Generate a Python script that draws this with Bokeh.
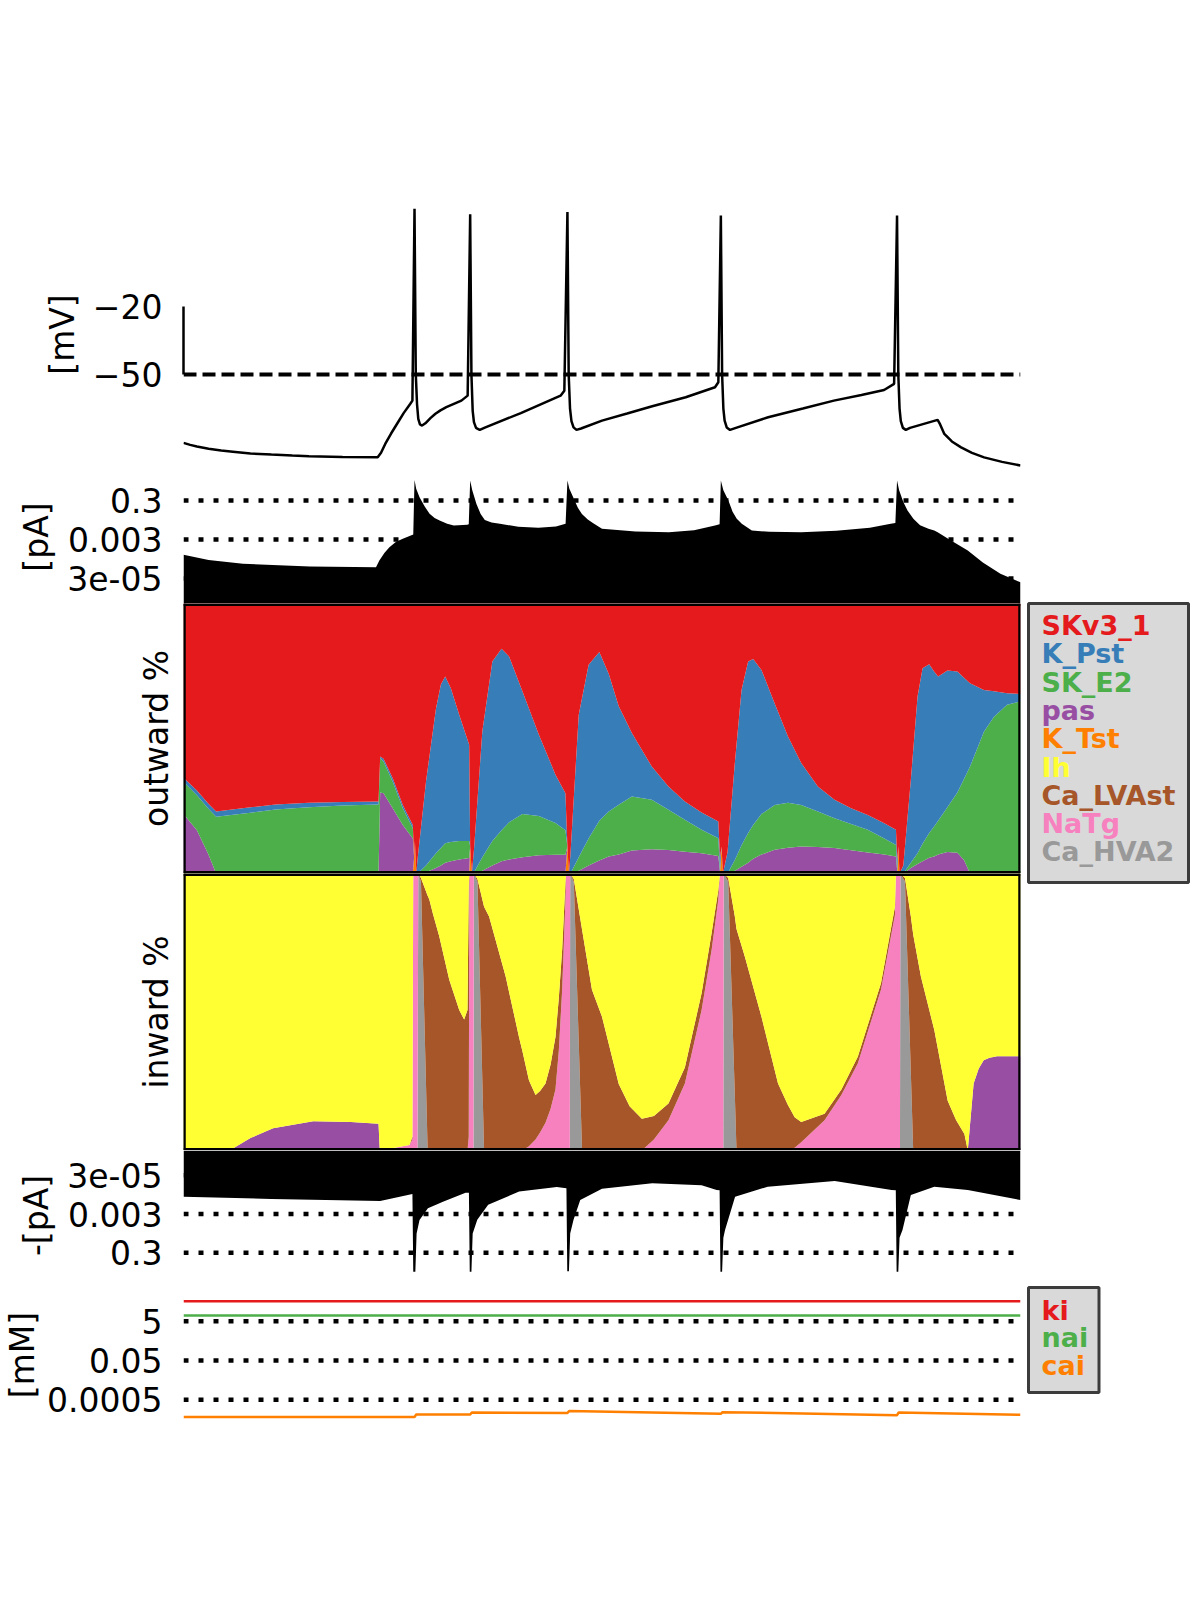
from bokeh.plotting import figure
from bokeh.layouts import column, row
from bokeh.models import Range1d, FixedTicker, Span, ColumnDataSource
from bokeh.core.properties import value
from bokeh.embed import file_html
from bokeh.resources import INLINE

FONT = "DejaVu Sans"

# membrane voltage trace (ms, mV)
v_t = [0, 8, 16, 30, 45, 59, 80, 105, 130, 150,
       190, 232, 236, 241, 248, 255, 263, 271, 273.5, 276,
       277.5, 279, 280.5, 282.5, 285, 289, 295, 301, 307, 314,
       332, 339.5, 342.5, 344, 345.5, 347, 349.5, 351, 354, 360,
       403, 450.5, 455, 458.7, 460.2, 461.8, 463.5, 466, 469.5, 475,
       500, 530, 560, 600, 635, 639, 642, 643.5, 645, 646.5,
       649, 653, 660, 698.5, 740, 777, 810, 837, 849, 852.5,
       854, 855.5, 857, 859.5, 863, 868, 901, 904, 909, 918,
       929, 942, 956.5, 978, 1000]
v_mv = [-80.1, -81.0, -81.7, -82.7, -83.5, -84.0, -84.8, -85.3, -85.7, -86.0,
        -86.3, -86.5, -84.5, -80.6, -76.0, -71.8, -67.0, -62.9, -61.5, 23.1,
        -49.6, -63, -69.5, -72, -72.5, -71.5, -69.2, -67.3, -65.8, -64.4,
        -61.5, -59.3, 20.6, -50, -66, -71, -73.5, -73.8, -74.4, -73.4,
        -67, -59.3, -57.1, 21.6, -50, -65, -70.5, -73.3, -74.4, -73.8,
        -70.3, -67.2, -64.0, -60.0, -55.6, -53.4, 20.1, -50, -65, -70.3,
        -73.3, -74.4, -73.5, -68.8, -65, -61.5, -59, -56.8, -54.1, 20.1,
        -50, -65, -70.5, -73.5, -74.4, -73.5, -70.0, -72, -76.2, -79.5,
        -82.1, -84.5, -86.5, -88.5, -90.1]

# total outward current (pA)
out_t = [0, 30, 71, 151, 230, 234, 240, 246, 254, 262,
         274.5, 276, 278, 282, 288, 294, 300, 306, 315, 323,
         339, 340.8, 342.5, 345, 350, 355, 360, 368, 378, 400,
         424, 445, 456.5, 458.7, 461, 466, 471, 476, 483, 490,
         500, 540, 580, 610, 635, 640.5, 642, 645, 651, 656,
         661, 667, 679, 700, 738, 780, 820, 845, 850.5, 852.5,
         855, 860, 865, 872, 880, 890, 897, 901, 915, 937,
         955, 976, 1000]
out_pa = [4.9e-4, 2.7e-4, 1.7e-4, 1.24e-4, 1.14e-4, 2.5e-4, 6e-4, 1.2e-3, 2.3e-3, 3.3e-3,
          5.4e-3, 3.4, 1.2, 0.44, 0.15, 0.062, 0.038, 0.028, 0.019, 0.0157,
          0.017, 0.018, 3.2, 1.0, 0.2, 0.06, 0.03, 0.022, 0.019, 0.0135,
          0.0119, 0.014, 0.019, 3.2, 1.2, 0.4, 0.13, 0.06, 0.032, 0.02,
          0.0106, 0.0078, 0.0071, 0.009, 0.0157, 0.018, 3.2, 1.0, 0.3, 0.08,
          0.035, 0.019, 0.0087, 0.0074, 0.0071, 0.0085, 0.012, 0.019, 0.021, 3.2,
          1.0, 0.25, 0.092, 0.035, 0.016, 0.0105, 0.0087, 0.0071, 0.003, 8.2e-4,
          2.0e-4, 5.2e-5, 1.9e-5]

# total inward current (pA, plotted downwards)
in_t = [0, 105, 235, 273.5, 274.5, 277, 278.5, 282, 292, 310,
        337, 341, 342, 344, 345.5, 351, 364, 401, 446, 455,
        457.5, 458.5, 460.5, 462, 466, 474, 500, 560, 619, 637,
        640.5, 641.5, 643.5, 645, 647, 659, 698, 778, 846, 851,
        852, 854, 855.5, 859, 869, 897, 937, 1000]
in_pa = [3.85e-4, 5.0e-4, 6.4e-4, 2.8e-4, 2.8, 2.8, 0.03, 0.0061, 0.0015, 6.9e-4,
         2.4e-4, 2.4e-4, 2.8, 2.8, 0.03, 0.006, 1.0e-3, 2.1e-4, 1.2e-4, 1.35e-4,
         1.4e-4, 2.7, 2.7, 0.03, 0.006, 5.7e-4, 1.5e-4, 7.8e-5, 9.9e-5, 1.75e-4,
         1.8e-4, 2.8, 2.8, 0.05, 0.02, 3.85e-4, 1.17e-4, 5.9e-5, 1.75e-4, 1.8e-4,
         2.8, 2.8, 0.05, 0.0198, 3.1e-4, 1.17e-4, 1.75e-4, 5.7e-4]

# outward current shares (%)
pct_out_t = [0, 16, 29.8, 39, 80, 110, 150, 190, 233, 235,
             239, 250, 262, 274, 275.5, 276.5, 278, 279.8, 289.7, 301.6,
             307.5, 312.7, 319.4, 329.4, 337.3, 341.3, 342.5, 344.5, 347.2, 357,
             369, 380, 389, 405, 424.6, 444.4, 456.3, 458.7, 460.5, 462.3,
             472.2, 484, 496.8, 508, 520, 535.7, 559.5, 579.4, 599, 619,
             639, 641, 642.8, 644.5, 650, 658.7, 666.7, 674.6, 680.6, 690.5,
             706.3, 722.2, 738, 757.9, 777.8, 797.6, 817.5, 837.3, 851.2, 852.8,
             854, 855.5, 860, 869, 877, 883, 890.9, 896.8, 901.6, 912.7,
             924.6, 932.5, 939.7, 956.3, 968.3, 984, 1000]
k_tst = [0, 0, 0, 0, 0, 0, 0, 0, 0, 0,
         0, 0, 0, 0, 6, 12, 0, 0, 0, 0,
         0, 0, 0, 0, 0, 0, 10, 0, 0, 0,
         0, 0, 0, 0, 0, 0, 0, 10, 0, 0,
         0, 0, 0, 0, 0, 0, 0, 0, 0, 0,
         0, 0, 10, 0, 0, 0, 0, 0, 0, 0,
         0, 0, 0, 0, 0, 0, 0, 0, 0, 0,
         10, 0, 0, 0, 0, 0, 0, 0, 0, 0,
         0, 0, 0, 0, 0, 0, 0]
pas_out = [22, 16, 7, 0, 0, 0, 0, 0, 0, 30,
           29.7, 24.2, 18, 13, 0, 0, 0, 0, 0.5, 2,
           3, 4, 4.5, 5.2, 5.6, 5.7, 0, 0, 0, 1,
           3, 4.5, 5.2, 6, 6.8, 6.9, 6.9, 0, 0, 0,
           1, 3, 4.8, 6.3, 7, 8.5, 9, 8.7, 8.1, 7.5,
           6.5, 0.5, 0, 0, 0, 1, 2.5, 4, 5.5, 7,
           8.8, 9.5, 10, 9.8, 9.4, 8.6, 7.8, 7, 6.3, 0.5,
           0, 0, 0, 2, 3.5, 4.5, 5.8, 6.3, 7, 8,
           7.7, 5, 0, 0, 0, 0, 0]
sk_e2 = [12, 13, 17, 21, 22.5, 23.7, 24.5, 25.2, 25.6, 12.7,
         11.8, 9.8, 6.2, 3.8, 0, 0, 0, 0, 2.5, 5.5,
         6.4, 7.2, 7.2, 6.8, 6.4, 6.3, 0, 0, 0.5, 5,
         9, 11.5, 13.8, 16, 14.5, 11.8, 9.1, 0, 0, 0,
         5, 10, 14.7, 16.7, 18.5, 20, 18.3, 14.9, 11.8, 8.7,
         6.6, 0.5, 0, 0, 0, 4, 8, 11, 12.5, 15,
         16.6, 16.7, 15.4, 13.2, 11.1, 9.7, 8.4, 6, 4.3, 0.5,
         0, 0, 0, 2, 4, 6.5, 9.2, 11.1, 12.5, 16.5,
         22.3, 30, 39.6, 52.5, 58.1, 62.5, 63.8]
k_pst = [1.5, 1.7, 1.8, 2, 2, 1.9, 1.7, 1.3, 1.1, 0.6,
         1, 1.3, 1.2, 1.2, 0, 0, 0, 5.7, 31, 53.5,
         60.6, 61.8, 56.9, 46.8, 39.4, 35.7, 0, 0, 8.9, 46.6,
         66.5, 67.2, 61.4, 45.4, 30.1, 17.9, 13.7, 0, 0, 7,
         52.8, 64.3, 62.5, 51, 36.4, 23.5, 12.3, 8.6, 6.8, 6.4,
         6.2, 4.7, 0, 0, 8, 35.9, 57.5, 63.5, 61.4, 53.4,
         37.6, 24.5, 15.5, 9.2, 6.8, 5.9, 5.5, 5.6, 5.6, 4,
         0, 0, 3, 30.7, 58.1, 65, 62.5, 57.4, 53.5, 50.7,
         44.8, 37.5, 30.9, 15.5, 9.4, 4.3, 2.7]
skv3_1 = [64.5, 69.3, 74.2, 77, 75.5, 74.4, 73.8, 73.5, 73.3, 56.7,
          57.5, 64.7, 74.6, 82, 94, 88, 100, 94.3, 66, 39,
          30, 27, 31.4, 41.2, 48.6, 52.3, 90, 100, 90.6, 47.4,
          21.5, 16.8, 19.6, 32.6, 48.6, 63.4, 70.3, 90, 100, 93,
          41.2, 22.7, 18, 26, 38.1, 48, 60.4, 67.8, 73.3, 77.4,
          80.7, 94.3, 90, 100, 92, 59.1, 32, 21.5, 20.6, 24.6,
          37, 49.3, 59.1, 67.8, 72.7, 75.8, 78.3, 81.4, 83.8, 95,
          90, 100, 97, 65.3, 34.4, 24, 22.5, 25.2, 27, 24.8,
          25.2, 27.5, 29.5, 32, 32.5, 33.2, 33.5]

# inward current shares (%)
pct_in_t = [0, 55, 80, 107, 155, 200, 233, 234.5, 270, 273.5,
            274.5, 279.5, 280.5, 283.7, 291.7, 293.7, 298, 305.6, 317.5, 329.4,
            335.3, 339.3, 340.8, 341.5, 346.4, 346.9, 351.2, 359.1, 365.1, 384.9,
            400.8, 404.8, 412.7, 420.6, 426, 432.5, 438.5, 444.4, 448.4, 452.4,
            456.3, 457, 461.5, 462, 466.3, 476.2, 488, 500, 520, 533,
            547.6, 562, 579.4, 599, 619, 631, 639, 640.9, 644.9, 645.4,
            650.8, 658.7, 660.7, 670.6, 690.5, 710.3, 722, 730.2, 738, 765.9,
            786, 805.6, 833.3, 850, 851.2, 856, 856.5, 862, 869, 871.8,
            881, 897, 913, 923, 933, 937, 944, 950, 956, 963,
            972, 1000]
pas_in = [0, 0, 4.5, 8, 10.6, 10.3, 9.7, 0, 0, 0,
          0, 0, 0, 0, 0, 0, 0, 0, 0, 0,
          0, 0, 0, 0, 0, 0, 0, 0, 0, 0,
          0, 0, 0, 0, 0, 0, 0, 0, 0, 0,
          0, 0, 0, 0, 0, 0, 0, 0, 0, 0,
          0, 0, 0, 0, 0, 0, 0, 0, 0, 0,
          0, 0, 0, 0, 0, 0, 0, 0, 0, 0,
          0, 0, 0, 0, 0, 0, 0, 0, 0, 0,
          0, 0, 0, 0, 0, 0, 24.2, 29.5, 32.6, 33.5,
          34, 34]
ca_hva2 = [0, 0, 0, 0, 0, 0, 0, 0, 0, 0,
           0, 0, 100, 97, 0, 0, 0, 0, 0, 0,
           0, 0, 0, 0, 0, 100, 97, 0, 0, 0,
           0, 0, 0, 0, 0, 0, 0, 0, 0, 0,
           0, 0, 0, 100, 97, 0, 0, 0, 0, 0,
           0, 0, 0, 0, 0, 0, 0, 0, 0, 100,
           97, 20, 0, 0, 0, 0, 0, 0, 0, 0,
           0, 0, 0, 0, 0, 0, 100, 97, 28, 0,
           0, 0, 0, 0, 0, 0, 0, 0, 0, 0,
           0, 0]
natg = [0, 0, 0, 0, 0, 0, 0, 0, 2, 4,
        100, 100, 0, 0, 0, 0, 0, 0, 0, 0,
        0, 0, 5, 100, 100, 0, 0, 0, 0, 0,
        0, 0, 1.5, 4, 6.5, 10, 15, 22, 36, 58,
        90, 100, 100, 0, 0, 0, 0, 0, 0, 0,
        0, 4, 10.9, 24.2, 50.7, 72.5, 90.6, 100, 100, 0,
        0, 0, 0, 0, 0, 0, 0, 1, 3, 10.9,
        20, 31.4, 58, 85, 100, 100, 0, 0, 0, 0,
        0, 0, 0, 0, 0, 0, 0, 0, 0, 0,
        0, 0]
ca_lvast = [0, 0, 0, 0, 0, 0, 0, 0, 0, 1,
            0, 0, 0, 1.4, 92, 90.6, 85.5, 77.3, 61.6, 50.7,
            47.3, 50.7, 90, 0, 0, 0, 1, 88, 84.5, 62.8,
            41, 36, 23.9, 16, 15, 14.2, 16, 19, 19, 14.5,
            6.7, 0, 0, 0, 1, 79.7, 58, 48.3, 24, 16,
            11.5, 8.5, 6.1, 5.8, 6.1, 6, 3.4, 0, 0, 0,
            1.4, 64.5, 80, 70, 48.3, 24.2, 16.5, 11, 7.3, 2.4,
            2, 2.4, 2.4, 3, 0, 0, 0, 1.4, 56.5, 78,
            62.8, 43.5, 18, 11, 6, 0, 0, 0, 0, 0,
            0, 0]
ih = [100, 100, 95.5, 92, 89.4, 89.7, 90.3, 100, 98, 95,
      0, 0, 0, 1.6, 8, 9.4, 14.5, 22.7, 38.4, 49.3,
      52.7, 49.3, 5, 0, 0, 0, 2, 12, 15.5, 37.2,
      59, 64, 74.6, 80, 78.5, 75.8, 69, 59, 45, 27.5,
      3.3, 0, 0, 0, 2, 20.3, 42, 51.7, 76, 84,
      88.5, 87.5, 83, 70, 43.2, 21.5, 6, 0, 0, 0,
      1.6, 15.5, 20, 30, 51.7, 75.8, 83.5, 88, 89.7, 86.7,
      78, 66.2, 39.6, 12, 0, 0, 0, 1.6, 15.5, 22,
      37.2, 56.5, 82, 89, 94, 100, 75.8, 70.5, 67.4, 66.5,
      66, 66]

# ionic concentrations (mM)
ion_t = [0, 1000]
ki = [52, 52]
nai = [9.7, 9.7]
cai_t = [0, 276, 278, 342.5, 344.5, 458.7, 460.7, 642, 644, 852.5, 854.5, 1000]
cai = [6.6e-5, 6.6e-5, 8.9e-5, 8.9e-5, 1.13e-4, 1.06e-4, 1.33e-4, 9.7e-5,
       1.18e-4, 8.3e-5, 1.13e-4, 8.6e-5]

currents = ["SKv3_1", "K_Pst", "SK_E2", "pas", "K_Tst", "Ih", "Ca_LVAst", "NaTg", "Ca_HVA2"]
colors = ["#e41a1c", "#377eb8", "#4daf4a", "#984ea3", "#ff7f00",
          "#ffff33", "#a65628", "#f781bf", "#999999"]
cmap = dict(zip(currents, colors))
ions = ["ki", "nai", "cai"]
ion_colors = ["#e41a1c", "#4daf4a", "#ff7f00"]

current_ticks = [3e-05, 0.003, 0.3]
ion_ticks = [0.0005, 0.05, 5]

LEFT, RIGHT, FRAME_W = 180, 4, 840
x_range = Range1d(0, 1000)


def panel(frame_h, y_range, y_type="linear", top=0, bottom=0, label=""):
    p = figure(width=LEFT + FRAME_W + RIGHT, height=frame_h + top + bottom,
               x_range=x_range, y_range=y_range, y_axis_type=y_type,
               x_axis_location=None, toolbar_location=None, output_backend="svg",
               min_border_left=LEFT, min_border_right=RIGHT,
               min_border_top=top, min_border_bottom=bottom)
    p.grid.visible = False
    p.outline_line_color = None
    ax = p.yaxis[0]
    ax.axis_label = label
    ax.axis_line_color = None
    ax.major_tick_line_color = None
    ax.minor_tick_line_color = None
    ax.major_tick_out = 0
    ax.major_tick_in = 0
    ax.minor_tick_out = 0
    ax.major_label_text_font = FONT
    ax.major_label_text_font_size = "33px"
    ax.major_label_text_color = "black"
    ax.major_label_standoff = 21
    ax.axis_label_text_font = FONT
    ax.axis_label_text_font_size = "33px"
    ax.axis_label_text_font_style = "normal"
    ax.axis_label_text_color = "black"
    ax.axis_label_standoff = 8
    return p


def dotted(p, levels):
    for lv in levels:
        p.add_layout(Span(location=lv, dimension="width", line_color="black",
                          line_width=4.5, line_dash="5 10", level="underlay"))


def log_ticks(p, ticks):
    p.yaxis.ticker = FixedTicker(ticks=ticks)
    p.yaxis.major_label_overrides = {t: f"{t:g}" for t in ticks}


def frame_box(p):
    # thick black border around the share panels
    for loc in (x_range.start, x_range.end):
        p.add_layout(Span(location=loc, dimension="height", line_color="black",
                          line_width=4.5, level="overlay"))
    for loc in (p.y_range.start, p.y_range.end):
        p.add_layout(Span(location=loc, dimension="width", line_color="black",
                          line_width=5, level="overlay"))


# voltage
pv = panel(272, Range1d(-92.3, 27.6), top=198, label="[mV]")
pv.yaxis.ticker = FixedTicker(ticks=[-50, -20])
pv.yaxis.major_label_overrides = {-50: "\u221250", -20: "\u221220"}
pv.yaxis.bounds = (-50, -20)
pv.yaxis.axis_line_color = "black"
pv.yaxis.axis_line_width = 2.5
pv.add_layout(Span(location=-50, dimension="width", line_color="black",
                   line_width=4, line_dash="13 6"))
pv.line(v_t, v_mv, color="black", line_width=2.5)

# total outward current
OUT_LO, OUT_HI = 1.57e-6, 10.3
po = panel(133, Range1d(OUT_LO, OUT_HI), "log", label="[pA]")
log_ticks(po, current_ticks)
dotted(po, current_ticks)
po.varea(x=out_t, y1=OUT_LO, y2=out_pa, color="black")

# outward shares
out_src = ColumnDataSource(dict(t=pct_out_t, K_Tst=k_tst, pas=pas_out, SK_E2=sk_e2,
                                K_Pst=k_pst, SKv3_1=skv3_1))
out_order = ["K_Tst", "pas", "SK_E2", "K_Pst", "SKv3_1"]
pso = panel(270, Range1d(0, 100), label="outward %")
pso.yaxis.ticker = FixedTicker(ticks=[])
pso.yaxis.major_label_standoff = 0
pso.varea_stack(stackers=out_order, x="t", color=[cmap[c] for c in out_order], source=out_src)
frame_box(pso)

# inward shares
in_src = ColumnDataSource(dict(t=pct_in_t, pas=pas_in, Ca_HVA2=ca_hva2, NaTg=natg,
                               Ca_LVAst=ca_lvast, Ih=ih))
in_order = ["pas", "Ca_HVA2", "NaTg", "Ca_LVAst", "Ih"]
psi = panel(277, Range1d(0, 100), label="inward %")
psi.yaxis.ticker = FixedTicker(ticks=[])
psi.yaxis.major_label_standoff = 0
psi.varea_stack(stackers=in_order, x="t", color=[cmap[c] for c in in_order], source=in_src)
frame_box(psi)

# total inward current (axis flipped)
IN_TOP, IN_BOT = 1.6e-6, 8.0
pi = panel(130, Range1d(IN_BOT, IN_TOP), "log", label="-[pA]")
log_ticks(pi, current_ticks)
dotted(pi, current_ticks)
pi.varea(x=in_t, y1=IN_TOP, y2=in_pa, color="black")

# ionic concentrations
pc = panel(135, Range1d(3.5e-5, 259), "log", top=7, bottom=10, label="[mM]")
log_ticks(pc, ion_ticks)
pc.yaxis.axis_label_standoff = 2
dotted(pc, ion_ticks)
pc.line(ion_t, ki, color=ion_colors[0], line_width=2.5)
pc.line(ion_t, nai, color=ion_colors[1], line_width=2.5)
pc.line(cai_t, cai, color=ion_colors[2], line_width=2.5)

panels = [pv, po, pso, psi, pi, pc]
total_h = sum(p.height for p in panels)

# legends drawn in a side strip, y counted from the top in pixels
LEG_W = 168
lg = figure(width=LEG_W, height=total_h, x_range=Range1d(0, LEG_W),
            y_range=Range1d(total_h, 0), toolbar_location=None, output_backend="svg",
            x_axis_location=None, y_axis_location=None, min_border=0)
lg.grid.visible = False
lg.outline_line_color = None

lg.quad(left=4, right=164, top=603, bottom=882, fill_color="#d9d9d9",
        line_color="#3c3c3c", line_width=3)
lg.text(x=17, y=[625 + 28.3 * i for i in range(len(currents))], text=currents,
        text_color=colors, text_font=value(FONT), text_font_style="bold",
        text_font_size="27px", text_baseline="middle")

lg.quad(left=4, right=74.5, top=1287, bottom=1392, fill_color="#d9d9d9",
        line_color="#3c3c3c", line_width=3)
lg.text(x=17, y=[1309.5 + 27.5 * i for i in range(len(ions))], text=ions,
        text_color=ion_colors, text_font=value(FONT), text_font_style="bold",
        text_font_size="27px", text_baseline="middle")

layout = row(column(*panels), lg)
open("out.html", "w").write(file_html(layout, INLINE, "currentscape"))
